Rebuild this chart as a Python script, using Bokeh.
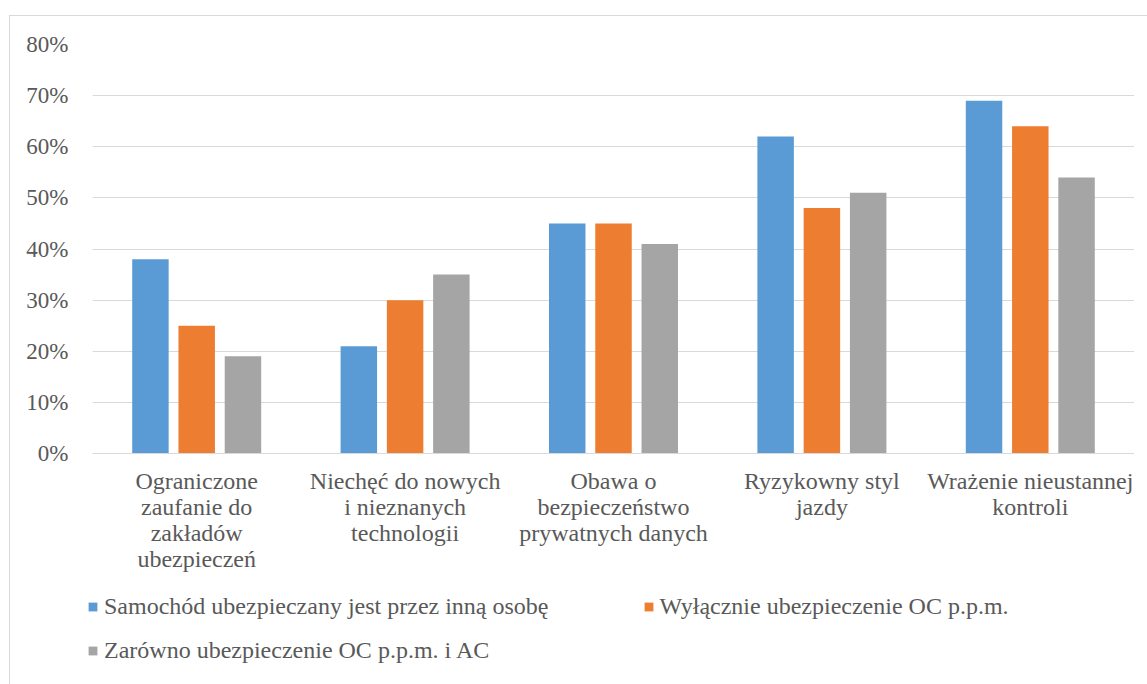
from bokeh.plotting import figure
from bokeh.layouts import column
from bokeh.models import (FactorRange, Range1d, FixedTicker, PrintfTickFormatter,
                          Legend, LegendItem, ColumnDataSource)
from bokeh.transform import dodge
from bokeh.embed import file_html
from bokeh.resources import INLINE

categories = [
    "Ograniczone\nzaufanie do\nzakładów\nubezpieczeń",
    "Niechęć do nowych\ni nieznanych\ntechnologii",
    "Obawa o\nbezpieczeństwo\nprywatnych danych",
    "Ryzykowny styl\njazdy",
    "Wrażenie nieustannej\nkontroli",
]
series_names = [
    "Samochód ubezpieczany jest przez inną osobę",
    "Wyłącznie ubezpieczenie OC p.p.m.",
    "Zarówno ubezpieczenie OC p.p.m. i AC",
]
inna_osoba = [38, 21, 45, 62, 69]
tylko_oc = [25, 30, 45, 48, 64]
oc_i_ac = [19, 35, 41, 51, 54]
y_ticks = [0, 10, 20, 30, 40, 50, 60, 70, 80]

colors = ["#5B9BD5", "#ED7D31", "#A5A5A5"]
FONT = "'Liberation Serif', 'Times New Roman', serif"
TXT = "#595959"
GRID = "#D9D9D9"

src = ColumnDataSource(dict(cat=categories, s1=inna_osoba, s2=tylko_oc, s3=oc_i_ac))
keys = ["s1", "s2", "s3"]
offsets = [-0.222, 0.0, 0.222]

W1 = 1124
W2 = 1138
H1 = 570
H2 = 98

xr = FactorRange(factors=categories, range_padding=0)

p = figure(
    width=W1, height=H1,
    x_range=xr,
    y_range=Range1d(0, 80),
    output_backend="svg", toolbar_location=None,
    min_border_left=82, min_border_top=28, min_border_right=0,
    min_border_bottom=H1 - 437,
)
p.outline_line_color = None
p.background_fill_color = "white"
p.border_fill_color = "white"

for key, off, col in zip(keys, offsets, colors):
    p.vbar(x=dodge("cat", off, range=xr), top=key, bottom=0, width=0.175,
           source=src, fill_color=col, line_color=None)

# y axis
p.yaxis.ticker = FixedTicker(ticks=y_ticks)
p.yaxis.formatter = PrintfTickFormatter(format="%d%%")
p.yaxis.axis_line_color = None
p.yaxis.major_tick_line_color = None
p.yaxis.minor_tick_line_color = None
p.yaxis.major_tick_out = 0
p.yaxis.major_tick_in = 0
p.yaxis.minor_tick_out = 0
p.yaxis.major_label_standoff = 24
p.yaxis.major_label_text_font = FONT
p.yaxis.major_label_text_font_size = "23px"
p.yaxis.major_label_text_color = TXT

p.ygrid.ticker = FixedTicker(ticks=y_ticks)
p.ygrid.grid_line_color = GRID
p.ygrid.grid_line_width = 1
p.xgrid.grid_line_color = None

# x axis
p.xaxis.axis_line_color = GRID
p.xaxis.axis_line_width = 1
p.xaxis.major_tick_line_color = None
p.xaxis.minor_tick_line_color = None
p.xaxis.major_tick_out = 0
p.xaxis.major_tick_in = 0
p.xaxis.major_label_standoff = 14
p.xaxis.major_label_text_font = FONT
p.xaxis.major_label_text_font_size = "24px"
p.xaxis.major_label_text_color = TXT
p.xaxis.major_label_text_line_height = 1.0

# legend strip: series proxies (zero width, outside the view); only the legend shows
q = figure(
    width=W2, height=H2, x_range=xr, y_range=Range1d(-20, -10),
    output_backend="svg", toolbar_location=None,
    x_axis_location=None, y_axis_location=None,
    min_border=0, min_border_left=0, min_border_right=0,
    min_border_top=0, min_border_bottom=0,
)
if "frame_align" in q.properties():
    q.frame_align = False
    p.frame_align = False
q.outline_line_color = None
q.grid.visible = False
q.background_fill_color = "white"
q.border_fill_color = "white"
lr = [q.vbar(x=dodge("cat", off, range=xr), top=key, bottom=0, width=0,
             source=src, fill_color=col, line_color=None)
      for key, off, col in zip(keys, offsets, colors)]

def make_legend(items, loc, spacing=0):
    return Legend(items=items, location=loc, orientation="horizontal",
                  margin=0, padding=0, spacing=spacing,
                  glyph_width=11, glyph_height=11, label_standoff=6,
                  label_text_font=FONT, label_text_font_size="24px",
                  label_text_color=TXT, background_fill_alpha=0,
                  border_line_color=None)

leg1 = make_legend([LegendItem(label=series_names[0], renderers=[lr[0]]),
                    LegendItem(label=series_names[1], renderers=[lr[1]])],
                   (77, 64), spacing=94)
leg2 = make_legend([LegendItem(label=series_names[2], renderers=[lr[2]])],
                   (77, 20))
q.add_layout(leg1, "center")
q.add_layout(leg2, "center")

layout = column(p, q, spacing=0)
layout.margin = (15, 0, 0, 9)
layout.styles = {"border-left": "1px solid #D9D9D9", "border-top": "1px solid #D9D9D9",
                 "background-color": "white"}

open("out.html", "w").write(file_html(layout, INLINE))
